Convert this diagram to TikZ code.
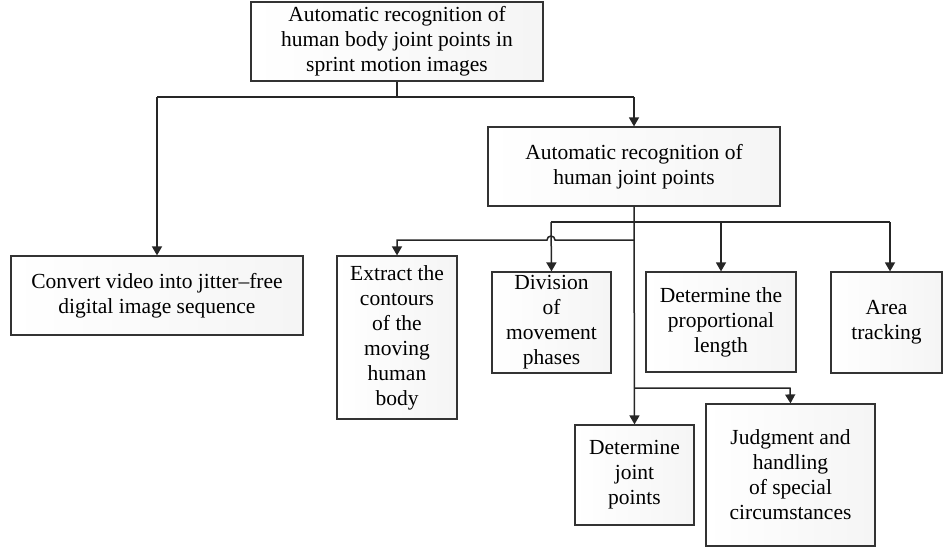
\documentclass[tikz,border=0pt]{standalone}
\usepackage{fontspec}
\setmainfont{Liberation Serif}
\usetikzlibrary{arrows.meta}
\begin{document}
\begin{tikzpicture}[x=1pt,y=-1pt,
  box/.style={draw=black!80,line width=1.2pt,left color=white,right color=black!4,
    align=center,inner sep=0pt,font=\fontsize{21.5}{25}\selectfont},
  conn/.style={draw=black!85,line width=1.5pt},
  arr/.style={conn,-{Triangle[width=10pt,length=9pt]}}]
\useasboundingbox (0,0) rectangle (943,550);
\node[box,minimum width=292pt,minimum height=79pt] (top) at (397,41.5)
  {Automatic recognition of\\human body joint points in\\sprint motion images};
\node[box,minimum width=292pt,minimum height=79pt] (auto) at (634,166.5)
  {Automatic recognition of\\human joint points};
\node[box,minimum width=292pt,minimum height=79pt] (conv) at (157,295.5)
  {Convert video into jitter–free\\digital image sequence};
\node[box,minimum width=120pt,minimum height=163pt] (extr) at (397,337.5)
  {Extract the\\contours\\of the\\moving\\human\\body};
\node[box,minimum width=119pt,minimum height=101pt] (divi) at (551.5,322.5)
  {Division\\of\\movement\\phases};
\node[box,minimum width=150pt,minimum height=100pt] (prop) at (721,322)
  {Determine the\\proportional\\length};
\node[box,minimum width=111pt,minimum height=101pt] (area) at (886.5,322.5)
  {Area\\tracking};
\node[box,minimum width=119pt,minimum height=100pt] (join) at (634.5,475)
  {Determine\\joint\\points};
\node[box,minimum width=169pt,minimum height=142pt] (judg) at (790.5,475)
  {Judgment and\\handling\\of special\\circumstances};
% level 1
\coordinate (t1) at (397,97);
\coordinate (tl) at (157,97);
\coordinate (tr) at (634,97);
\draw[conn] (top.south) -- (t1);
\draw[conn] (tl) -- (tr);
\draw[arr] (tl) -- (conv.north);
\draw[arr] (tr) -- (auto.north);
% level 2
\coordinate (a1) at (551,222);
\coordinate (a2) at (721,222);
\coordinate (a3) at (890,222);
\coordinate (b0) at (634,240);
\coordinate (b1) at (555,240);
\coordinate (b2) at (397,240);
\coordinate (c0) at (634,388);
\coordinate (c1) at (790,388);
\draw[arr] (auto.south) -- (join.north);
\draw[conn] (a1) -- (a3);
\draw[arr] (a1) -- (divi.north);
\draw[arr] (a2) -- (prop.north);
\draw[arr] (a3) -- (a3 |- area.north);
\draw[arr] (b0) -- (b1) arc[start angle=0,end angle=180,radius=4pt] -- (b2) -- (extr.north);
\draw[arr] (c0) -- (c1) -- (judg.north);
\end{tikzpicture}
\end{document}
